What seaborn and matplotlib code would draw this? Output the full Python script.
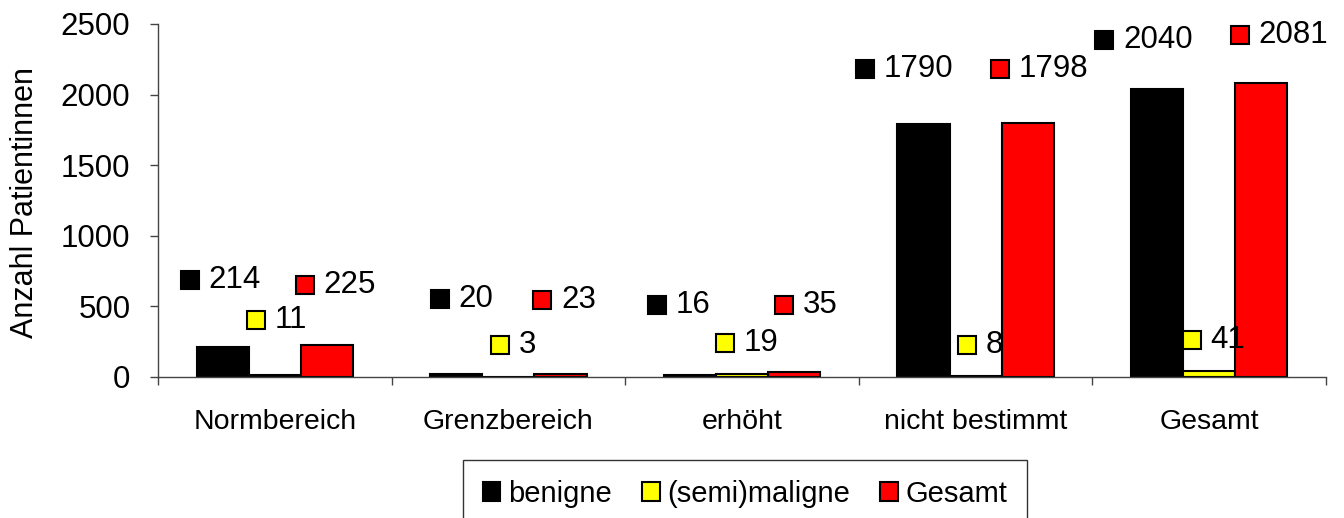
import matplotlib
matplotlib.use('Agg')
import matplotlib.pyplot as plt
from matplotlib.patches import Rectangle
from matplotlib.offsetbox import DrawingArea, TextArea, HPacker, AnnotationBbox
import seaborn as sns
import pandas as pd


categories = ['Normbereich', 'Grenzbereich', 'erhöht', 'nicht bestimmt', 'Gesamt']
groups = ['benigne', '(semi)maligne', 'Gesamt']
benigne = [214, 20, 16, 1790, 2040]
semimaligne = [11, 3, 19, 8, 41]
gesamt = [225, 23, 35, 1798, 2081]

# heights (data units) where the data labels sit in the original chart
label_y_benigne = [687, 552, 510, 2181, 2387]
label_y_semi = [404, 227, 241, 227, 262]
label_y_gesamt = [652, 545, 510, 2181, 2422]
# sideways nudge of each label from its bar centre (pixels)
label_dx_benigne = [-2, 6, -11, -19, -13]
label_dx_semi = [2, 5, 5, 5, 5]
label_dx_gesamt = [9, 4, 12, 12, 18]

colors = ['#000000', '#ffff00', '#ff0000']

df = pd.DataFrame({
    'Kategorie': categories * 3,
    'Gruppe': [g for g in groups for _ in categories],
    'Anzahl': benigne + semimaligne + gesamt,
})

sns.set_theme(style='white')
plt.rcParams['font.family'] = ['Liberation Sans', 'DejaVu Sans']
plt.rcParams['text.color'] = 'black'
plt.rcParams['axes.labelcolor'] = 'black'
plt.rcParams['xtick.color'] = 'black'
plt.rcParams['ytick.color'] = 'black'

fig = plt.figure(figsize=(13.44, 5.18), dpi=100)
ax = fig.add_axes([158 / 1344, 141 / 518, 1168 / 1344, 353 / 518])

sns.barplot(data=df, x='Kategorie', y='Anzahl', hue='Gruppe',
            order=categories, hue_order=groups, palette=colors,
            saturation=1, width=0.67, gap=0, errorbar=None,
            edgecolor='black', linewidth=1.5, ax=ax)

# data labels with legend key over each bar
values = [benigne, semimaligne, gesamt]
label_ys = [label_y_benigne, label_y_semi, label_y_gesamt]
label_dxs = [label_dx_benigne, label_dx_semi, label_dx_gesamt]
for cont, vals, ys, dxs, col in zip(ax.containers, values, label_ys, label_dxs, colors):
    for bar, v, y, dx in zip(cont, vals, ys, dxs):
        key = DrawingArea(13, 13)
        key.add_artist(Rectangle((0, 0), 13, 13, facecolor=col,
                                 edgecolor='black', linewidth=1.5))
        txt = TextArea(str(v), textprops=dict(fontsize=22.5, color='black'))
        box = HPacker(children=[key, txt], align='center', pad=0, sep=7)
        x = bar.get_x() + bar.get_width() / 2
        ab = AnnotationBbox(box, (x, y), xycoords='data',
                            xybox=(dx * 0.72, 0), boxcoords='offset points',
                            frameon=False, box_alignment=(0.5, 0.5), pad=0,
                            zorder=5)
        ax.add_artist(ab)

ax.set_ylim(0, 2500)
ax.set_yticks([0, 500, 1000, 1500, 2000, 2500])
ax.set_xlim(-0.5, len(categories) - 0.5)
ax.set_xticks([i - 0.5 for i in range(len(categories) + 1)], minor=True)

axis_col = '#444444'
ax.tick_params(axis='x', which='major', length=0, pad=23, labelsize=20.5,
               bottom=True)
ax.tick_params(axis='x', which='minor', length=5.8, width=1, color=axis_col,
               direction='out', bottom=True)
ax.tick_params(axis='y', length=5.8, width=1, color=axis_col, pad=14,
               labelsize=22.5, left=True, direction='out')

sns.despine(ax=ax)
for s in ['left', 'bottom']:
    ax.spines[s].set_color(axis_col)
    ax.spines[s].set_linewidth(1)

ax.set_xlabel('')
ax.set_ylabel('Anzahl Patientinnen', fontsize=22)
ax.yaxis.set_label_coords(-0.101, 0.493)

handles, labels = ax.get_legend_handles_labels()
ax.get_legend().remove()
leg = fig.legend(handles, labels, loc='center',
                 bbox_to_anchor=(745 / 1344, (518 - 494) / 518), ncol=3,
                 fontsize=21, handlelength=0.6, handleheight=0.6,
                 handletextpad=0.25, columnspacing=1.05, borderpad=0.7,
                 frameon=True, fancybox=False, edgecolor='black')
leg.get_frame().set_linewidth(1)

fig.savefig('out.png', dpi=100)
